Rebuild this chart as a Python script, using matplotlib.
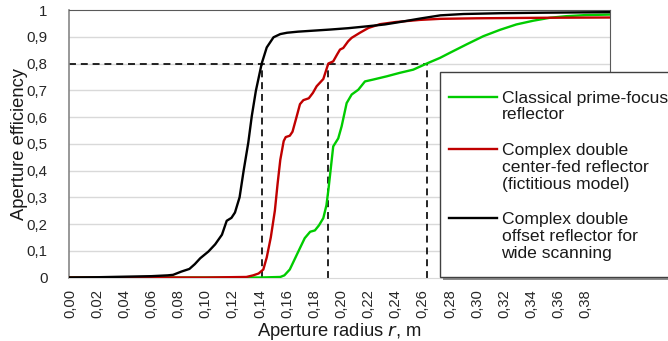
import matplotlib
matplotlib.use("Agg")
import matplotlib.pyplot as plt
from matplotlib.lines import Line2D
from matplotlib.patches import Rectangle

plt.rcParams['font.family'] = ['Liberation Sans', 'DejaVu Sans']
plt.rcParams['lines.scale_dashes'] = False

# ---- data ----
black_x = [0.000, 0.020, 0.040, 0.060, 0.072, 0.076, 0.082, 0.088, 0.092, 0.096,
           0.102, 0.107, 0.112, 0.1155, 0.119, 0.1216, 0.125, 0.128, 0.1314, 0.134,
           0.137, 0.1413, 0.145, 0.150, 0.155, 0.160, 0.168, 0.180, 0.192, 0.205,
           0.219, 0.232, 0.243, 0.258, 0.273, 0.290, 0.317, 0.350, 0.399]
black_y = [0.000, 0.001, 0.003, 0.005, 0.008, 0.010, 0.022, 0.032, 0.050, 0.072,
           0.097, 0.124, 0.160, 0.212, 0.223, 0.243, 0.300, 0.400, 0.504, 0.604,
           0.698, 0.800, 0.860, 0.898, 0.910, 0.915, 0.919, 0.923, 0.927, 0.932,
           0.939, 0.946, 0.955, 0.968, 0.980, 0.985, 0.988, 0.990, 0.992]

red_x = [0.000, 0.100, 0.130, 0.135, 0.139, 0.1425, 0.145, 0.148, 0.151, 0.153,
         0.155, 0.1575, 0.159, 0.162, 0.164, 0.1667, 0.1695, 0.172, 0.176, 0.179,
         0.1818, 0.1867, 0.1904, 0.194, 0.197, 0.199, 0.2014, 0.205, 0.2076, 0.2137,
         0.220, 0.2285, 0.240, 0.258, 0.273, 0.300, 0.350, 0.399]
red_y = [0.000, 0.000, 0.002, 0.008, 0.015, 0.030, 0.075, 0.150, 0.250, 0.350,
         0.440, 0.510, 0.525, 0.530, 0.545, 0.595, 0.648, 0.663, 0.670, 0.690,
         0.715, 0.742, 0.800, 0.808, 0.835, 0.852, 0.858, 0.883, 0.896, 0.915,
         0.933, 0.947, 0.955, 0.963, 0.967, 0.969, 0.971, 0.972]

green_x = [0.000, 0.140, 0.155, 0.158, 0.162, 0.1695, 0.173, 0.177, 0.1805, 0.1835,
           0.1867, 0.189, 0.1905, 0.1916, 0.194, 0.1977, 0.2002, 0.2039, 0.2076, 0.2125,
           0.2174, 0.2235, 0.2334, 0.243, 0.253, 0.263, 0.2727, 0.280, 0.2925, 0.3046,
           0.317, 0.329, 0.3415, 0.3537, 0.366, 0.380, 0.399]
green_y = [0.000, 0.000, 0.002, 0.008, 0.030, 0.110, 0.147, 0.171, 0.176, 0.195,
           0.222, 0.270, 0.330, 0.380, 0.490, 0.520, 0.565, 0.652, 0.684, 0.702,
           0.733, 0.740, 0.752, 0.765, 0.777, 0.800, 0.821, 0.840, 0.872, 0.902,
           0.926, 0.946, 0.960, 0.971, 0.977, 0.981, 0.983]

x_ticks = [i * 0.02 for i in range(20)]
x_tick_labels = ["0,00", "0,02", "0,04", "0,06", "0,08", "0,10", "0,12", "0,14", "0,16", "0,18",
                 "0,20", "0,22", "0,24", "0,26", "0,28", "0,30", "0,32", "0,34", "0,36", "0,38"]
y_ticks = [0.0, 0.1, 0.2, 0.3, 0.4, 0.5, 0.6, 0.7, 0.8, 0.9, 1.0]
y_tick_labels = ["0", "0,1", "0,2", "0,3", "0,4", "0,5", "0,6", "0,7", "0,8", "0,9", "1"]

level = 0.8
r_black = 0.1418
r_red = 0.1904
r_green = 0.263

labels = ["Classical prime-focus\nreflector",
          "Complex double\ncenter-fed reflector\n(fictitious model)",
          "Complex double\noffset reflector for\nwide scanning"]
colors = ["#00cc00", "#c00000", "#000000"]

# ---- figure ----
W, H = 668, 341
fig = plt.figure(figsize=(W / 100, H / 100), dpi=100)
ax = fig.add_axes([68.5 / W, 1 - 277.5 / H, (610 - 68.5) / W, (277.5 - 10) / H])

ax.set_xlim(-0.0011, 0.398)
ax.set_ylim(0, 1)

for yv in y_ticks[1:-1]:
    ax.axhline(yv, color="#d9d9d9", lw=1.0, zorder=0)

dash = dict(color="black", lw=1.2, dashes=(5, 3.5), zorder=2)
ax.plot([ax.get_xlim()[0], r_green], [level, level], **dash)
for r in (r_black, r_red, r_green):
    ax.plot([r, r], [0, level], **dash)

ax.plot(green_x, green_y, color=colors[0], lw=1.7, zorder=3)
ax.plot(red_x, red_y, color=colors[1], lw=1.7, zorder=3)
ax.plot(black_x, black_y, color=colors[2], lw=1.7, zorder=4)

ax.set_xticks(x_ticks)
ax.set_xticklabels(x_tick_labels, rotation=90, fontsize=10.6, color="#262626")
ax.set_yticks(y_ticks)
ax.set_yticklabels(y_tick_labels, fontsize=10.8, color="#262626")
ax.tick_params(axis="both", length=0)
ax.tick_params(axis="x", pad=8.5)
ax.tick_params(axis="y", pad=15)

ax.spines["left"].set_color("#868686")
ax.spines["left"].set_linewidth(1.2)
ax.spines["bottom"].set_color("#d9d9d9")
ax.spines["top"].set_color("#595959")
ax.spines["right"].set_color("#595959")

ax.set_ylabel("Aperture efficiency", fontsize=13.2, color="#1a1a1a")
ax.set_xlabel("Aperture radius $\\it{r}$, m", fontsize=13.2, color="#1a1a1a")
ax.yaxis.set_label_coords((28 - 68.5) / (610 - 68.5), 0.5)
ax.xaxis.set_label_coords(0.5, -(320.5 - 277.5) / (277.5 - 10))

# ---- legend box (figure pixel coordinates) ----
def fx(px):
    return px / W

def fy(py):
    return 1 - py / H

shadow = Rectangle((fx(443), fy(280)), fx(700) - fx(443), fy(75) - fy(280),
                   transform=fig.transFigure, facecolor="#8c8c8c", edgecolor="none", zorder=5)
box = Rectangle((fx(440), fy(277)), fx(700) - fx(440), fy(72) - fy(277),
                transform=fig.transFigure, facecolor="white", edgecolor="#404040", lw=1.0, zorder=6)
fig.patches.extend([shadow, box])

first_line_y = [96.7, 149.3, 218.3]
line_step = 16.7
for lab, col, y0 in zip(labels, colors, first_line_y):
    fig.lines.append(Line2D([fx(449), fx(497)], [fy(y0), fy(y0)], color=col, lw=1.7,
                            transform=fig.transFigure, zorder=7))
    for i, part in enumerate(lab.split("\n")):
        fig.text(fx(501.5), fy(y0 + i * line_step), part, fontsize=12.6, color="#1a1a1a",
                 ha="left", va="center_baseline", zorder=7)

fig.savefig("out.png", dpi=100)
